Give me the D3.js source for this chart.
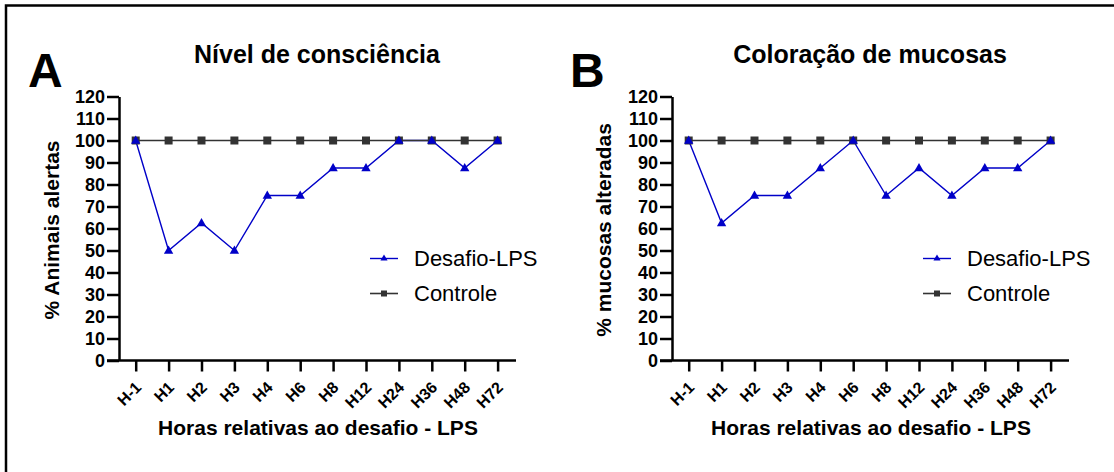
<!DOCTYPE html>
<html>
<head>
<meta charset="utf-8">
<script src="https://cdn.jsdelivr.net/npm/d3@7"></script>
<style>
  body { margin: 0; background: #fff; }
  svg { display: block; font-family: "Liberation Sans", Arial, sans-serif; }
</style>
</head>
<body>
<svg id="chart" width="1114" height="472"></svg>
<script>
// categories (hours relative to challenge)
var horas = ['H-1','H1','H2','H3','H4','H6','H8','H12','H24','H36','H48','H72'];
var yTicks = [0,10,20,30,40,50,60,70,80,90,100,110,120];

// panel A - nivel de consciencia
var desafioA = [100,50,62.5,50,75,75,87.5,87.5,100,100,87.5,100];
var controleA = [100,100,100,100,100,100,100,100,100,100,100,100];

// panel B - coloracao de mucosas
var desafioB = [100,62.5,75,75,87.5,100,75,87.5,75,87.5,87.5,100];
var controleB = [100,100,100,100,100,100,100,100,100,100,100,100];

var panels = [
  {letter:'A', title:'Nível de consciência', ylabel:'% Animais alertas', desafio:desafioA, controle:controleA, dx:0},
  {letter:'B', title:'Coloração de mucosas', ylabel:'% mucosas alteradas', desafio:desafioB, controle:controleB, dx:553}
];

var blue = '#0000c8';
var grey = '#333333';

var svg = d3.select('#chart');

//frame
svg.append('rect')
  .attr('x',6).attr('y',5.5)
  .attr('width',1200).attr('height',600)
  .style('fill','none').style('stroke','#000').style('stroke-width',2.5);

panels.forEach(function(p) {
  var g = svg.append('g').attr('transform','translate(' + p.dx + ',0)');

  var x = d3.scalePoint().domain(horas).range([135.7, 497.6]);
  var y = d3.scaleLinear().domain([0,120]).range([360.5, 96.5]);

  //y axis
  var yAx = g.append('g')
    .attr('transform','translate(119,0)')
    .call(d3.axisLeft(y).tickValues(yTicks).tickSize(12).tickSizeOuter(0).tickPadding(2));
  yAx.selectAll('text').style('font-size','18px').style('font-weight','bold').attr('fill','#000');

  //x axis, labels drawn by hand (rotated)
  var xAx = g.append('g')
    .attr('transform','translate(0,360.5)')
    .call(d3.axisBottom(x).tickSize(11).tickSizeOuter(0).tickFormat(''));
  xAx.select('.domain').attr('d','M107,0H516');
  xAx.selectAll('.tick').append('text')
    .attr('fill','#000')
    .attr('text-anchor','end')
    .attr('transform','translate(6,28) rotate(-45)')
    .style('font-size','16px').style('font-weight','bold')
    .text(function(d){ return d; });

  g.selectAll('.domain, .tick line').style('stroke','#000').style('stroke-width',2.5);

  //titles
  g.append('text')
    .attr('x',317).attr('y',63)
    .style('text-anchor','middle').style('font-size','25px').style('font-weight','bold')
    .text(p.title);
  g.append('text')
    .attr('x',p.letter === 'A' ? 28 : 17).attr('y',87)
    .style('font-size','48px').style('font-weight','bold')
    .text(p.letter);
  g.append('text')
    .attr('x',318).attr('y',435)
    .style('text-anchor','middle').style('font-size','21px').style('font-weight','bold')
    .text('Horas relativas ao desafio - LPS');
  g.append('text')
    .attr('transform','translate(' + (p.letter === 'A' ? 59 : 58) + ',230) rotate(-90)')
    .style('text-anchor','middle').style('font-size','21px').style('font-weight','bold')
    .text(p.ylabel);

  var line = d3.line().x(function(d,i){ return x(horas[i]); }).y(function(d){ return y(d); });

  g.append('path').datum(p.desafio).attr('d',line)
    .style('fill','none').style('stroke',blue).style('stroke-width',1.4);
  g.append('path').datum(p.controle).attr('d',line)
    .style('fill','none').style('stroke',grey).style('stroke-width',1.6);

  g.selectAll('.sq').data(p.controle).join('path')
    .classed('sq',true)
    .attr('d',d3.symbol(d3.symbolSquare,64))
    .attr('transform',function(d,i){ return 'translate(' + x(horas[i]) + ',' + y(d) + ')'; })
    .style('fill',grey);
  g.selectAll('.tri').data(p.desafio).join('path')
    .classed('tri',true)
    .attr('d',d3.symbol(d3.symbolTriangle,38))
    .attr('transform',function(d,i){ return 'translate(' + x(horas[i]) + ',' + (y(d) + 0.5) + ')'; })
    .style('fill',blue);

  //legend
  var leg = [
    {name:'Desafio-LPS', color:blue, sym:d3.symbolTriangle, size:22, sw:1.4},
    {name:'Controle', color:grey, sym:d3.symbolSquare, size:36, sw:1.6}
  ];
  var lg = g.selectAll('.leg').data(leg).join('g')
    .classed('leg',true)
    .attr('transform',function(d,i){ return 'translate(370,' + (258.5 + i*35) + ')'; });
  lg.append('line').attr('x1',0).attr('x2',28)
    .style('stroke',function(d){ return d.color; })
    .style('stroke-width',function(d){ return d.sw; });
  lg.append('path')
    .attr('d',function(d){ return d3.symbol(d.sym,d.size)(); })
    .attr('transform','translate(14,0)')
    .style('fill',function(d){ return d.color; });
  lg.append('text')
    .attr('x',44).attr('y',7.5)
    .style('font-size','22px')
    .text(function(d){ return d.name; });
});
</script>
</body>
</html>
